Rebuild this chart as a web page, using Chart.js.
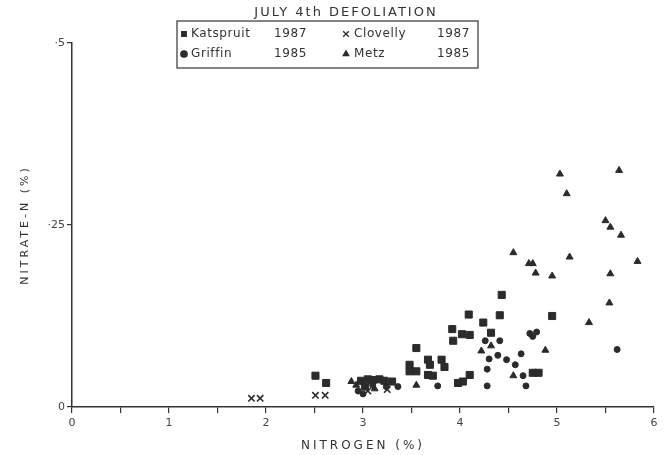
<!DOCTYPE html>
<html>
<head>
<meta charset="utf-8">
<script src="https://cdn.jsdelivr.net/npm/chart.js@4.4.1/dist/chart.umd.min.js"></script>
<style>
  html, body { margin: 0; padding: 0; background: #fff; }
  #wrap { width: 665px; height: 455px; position: relative; }
</style>
</head>
<body>
<div id="wrap"><canvas id="myChart" width="665" height="455"></canvas></div>
<script>
// nitrogen (%) vs nitrate-N (%) per site
let katspruitN = [2.51, 2.62, 2.98, 3.05, 3.10, 3.17, 3.22, 3.30, 3.02, 3.48, 3.48, 3.55, 3.55, 3.67, 3.69, 3.67, 3.72, 3.81, 3.84, 3.92, 3.93, 4.02, 4.10, 4.09, 4.24, 4.32, 4.41, 4.43, 4.10, 3.98, 4.03, 4.95, 4.75, 4.81];
let katspruitNO3 = [0.043, 0.033, 0.036, 0.038, 0.037, 0.038, 0.036, 0.035, 0.028, 0.058, 0.049, 0.049, 0.081, 0.065, 0.058, 0.044, 0.043, 0.065, 0.055, 0.107, 0.091, 0.100, 0.099, 0.127, 0.116, 0.102, 0.126, 0.154, 0.044, 0.033, 0.035, 0.125, 0.047, 0.047];

let clovellyN = [1.85, 1.94, 2.51, 2.61, 3.05, 3.25];
let clovellyNO3 = [0.012, 0.012, 0.016, 0.016, 0.022, 0.024];

let griffinN = [2.95, 3.00, 3.10, 3.24, 3.36, 3.77, 4.26, 4.41, 4.30, 4.39, 4.48, 4.28, 4.28, 4.63, 4.57, 4.65, 4.68, 4.72, 4.75, 4.79, 5.62];
let griffinNO3 = [0.022, 0.018, 0.030, 0.028, 0.028, 0.029, 0.091, 0.091, 0.066, 0.071, 0.065, 0.052, 0.029, 0.073, 0.058, 0.043, 0.029, 0.101, 0.097, 0.103, 0.079];

let metzN = [2.88, 2.93, 3.12, 3.55, 4.22, 4.32, 4.55, 4.88, 5.33, 5.54, 4.55, 4.71, 4.75, 4.78, 4.95, 5.55, 5.03, 5.64, 5.10, 5.50, 5.55, 5.66, 5.13, 5.83];
let metzNO3 = [0.035, 0.030, 0.025, 0.030, 0.077, 0.084, 0.043, 0.078, 0.116, 0.143, 0.212, 0.197, 0.197, 0.184, 0.180, 0.183, 0.320, 0.325, 0.293, 0.256, 0.247, 0.236, 0.206, 0.200];

let siteNames = ['Katspruit', 'Clovelly', 'Griffin', 'Metz'];
let siteYears = ['1987', '1987', '1985', '1985'];
let yTickLabels = { 0: '0', 0.25: '·25', 0.5: '·5' };

const ink = '#2b2b2b';
const textFont = '"DejaVu Sans", sans-serif';

function toPoints(xs, ys) {
  return xs.map((x, i) => ({ x: x, y: ys[i] }));
}

function makeSet(i, xs, ys, style, radius, bw) {
  return {
    label: siteNames[i] + ' ' + siteYears[i],
    data: toPoints(xs, ys),
    pointStyle: style,
    pointRadius: radius,
    pointHoverRadius: radius,
    pointBorderWidth: bw,
    backgroundColor: ink,
    borderColor: ink,
    showLine: false,
    clip: false
  };
}

// wider lettering for the axis titles only (tick labels sit on layer z=1, drawn after reset)
const spacing = {
  id: 'spacing',
  beforeDraw(chart) { chart.ctx.letterSpacing = '3px'; },
  beforeDatasetsDraw(chart) { chart.ctx.letterSpacing = '0px'; }
};

// boxed two-column legend + title, drawn from dataset labels
const boxLegend = {
  id: 'boxLegend',
  afterDraw(chart) {
    const ctx = chart.ctx;
    ctx.save();
    ctx.fillStyle = '#333';
    ctx.textBaseline = 'middle';
    ctx.textAlign = 'center';
    ctx.letterSpacing = '2px';
    ctx.font = '13px ' + textFont;
    ctx.fillText('JULY 4th DEFOLIATION', 346, 13);

    ctx.strokeStyle = '#444';
    ctx.lineWidth = 1.3;
    ctx.strokeRect(177, 21, 301, 47);

    ctx.letterSpacing = '0.6px';
    ctx.font = '12px ' + textFont;
    ctx.textAlign = 'left';
    const cols = [[184, 191, 274], [346, 354, 437]];
    const rows = [34, 54];
    chart.data.datasets.forEach((ds, i) => {
      const c = cols[i % 2];
      const r = rows[Math.floor(i / 2)];
      ctx.fillStyle = ink;
      ctx.strokeStyle = ink;
      Chart.helpers.drawPoint(ctx, {
        pointStyle: ds.pointStyle,
        radius: ds.pointStyle === 'crossRot' ? 4 : 3.2,
        borderWidth: ds.pointBorderWidth,
        rotation: 0
      }, c[0], r);
      ctx.fillStyle = '#333';
      ctx.fillText(siteNames[i], c[1], r);
      ctx.fillText(siteYears[i], c[2], r);
    });
    ctx.restore();
    ctx.letterSpacing = '0px';
  }
};

const ctx = document.getElementById('myChart');
Chart.defaults.color = '#333';
Chart.defaults.font.family = textFont;

let chart = new Chart(ctx, {
  type: 'scatter',
  data: {
    datasets: [
      makeSet(0, katspruitN, katspruitNO3, 'rect', 5, 1),
      makeSet(1, clovellyN, clovellyNO3, 'crossRot', 4.5, 1.6),
      makeSet(2, griffinN, griffinNO3, 'circle', 3, 1),
      makeSet(3, metzN, metzNO3, 'triangle', 4, 1)
    ]
  },
  options: {
    responsive: false,
    animation: false,
    layout: { padding: { top: 43, right: 11, left: 0, bottom: 0 } },
    plugins: {
      legend: { display: false },
      tooltip: { enabled: false }
    },
    scales: {
      x: {
        type: 'linear',
        min: 0,
        max: 6,
        afterFit(scale) { scale.height = 48; },
        ticks: {
          z: 1,
          stepSize: 0.5,
          padding: 4,
          maxRotation: 0,
          font: { size: 11 },
          color: '#444',
          callback: v => Number.isInteger(v) ? String(v) : ''
        },
        grid: { display: true, drawOnChartArea: false, tickLength: 6, color: '#333', lineWidth: 1.2 },
        border: { display: true, color: '#333', width: 1.5 },
        title: {
          display: true,
          text: 'NITROGEN (%)',
          font: { size: 12 },
          color: '#333',
          padding: { top: 0, bottom: 2 }
        }
      },
      y: {
        type: 'linear',
        min: 0,
        max: 0.5,
        afterFit(scale) { scale.width = 72; },
        ticks: {
          z: 1,
          stepSize: 0.25,
          padding: 2,
          font: { size: 11 },
          color: '#444',
          callback: v => yTickLabels[v] !== undefined ? yTickLabels[v] : ''
        },
        grid: { display: true, drawOnChartArea: false, tickLength: 5, color: '#333', lineWidth: 1.2 },
        border: { display: true, color: '#333', width: 1.5 },
        title: {
          display: true,
          text: 'NITRATE-N (%)',
          font: { size: 11 },
          color: '#333',
          padding: { top: 19, bottom: 0 }
        }
      }
    }
  },
  plugins: [spacing, boxLegend]
});
</script>
</body>
</html>
